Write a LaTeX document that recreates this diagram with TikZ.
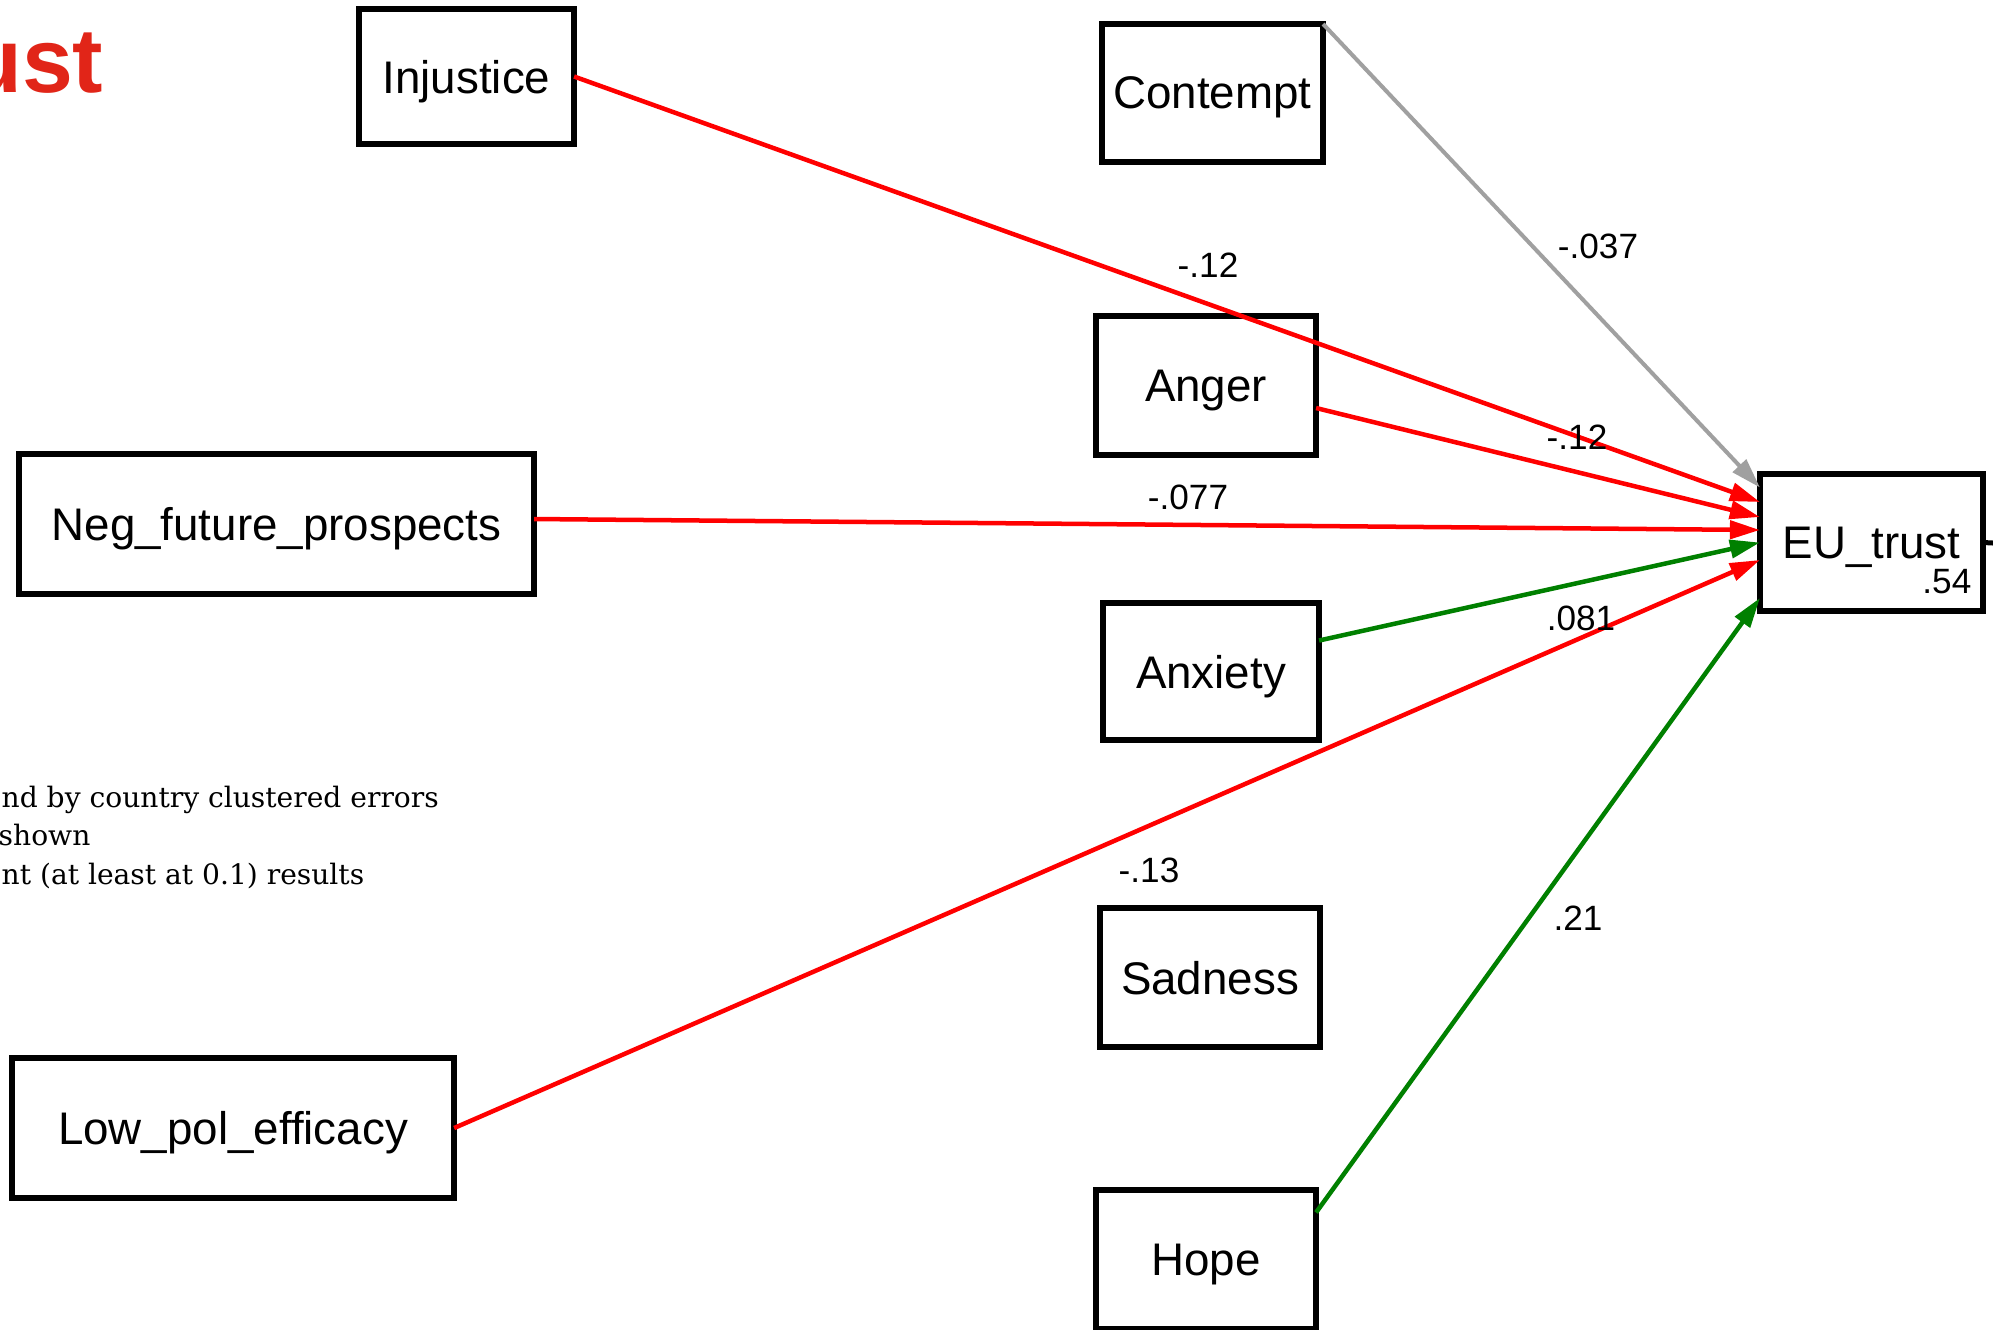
\documentclass[tikz,border=0pt]{standalone}
\usepackage{fontspec}
\setmainfont{Liberation Sans}
\newfontfamily\notefont{DejaVu Serif}
\usetikzlibrary{arrows.meta,calc}
\definecolor{semred}{RGB}{255,0,0}
\definecolor{semgreen}{RGB}{0,128,0}
\definecolor{semgray}{RGB}{160,160,160}
\definecolor{titlered}{RGB}{225,37,24}
\tikzset{
  varbox/.style={draw=black, line width=0.065cm, inner sep=0pt, outer sep=0pt,
    text depth=0pt, font=\fontsize{13pt}{15pt}\selectfont, fill=white},
  coef/.style={inner sep=0pt, font=\fontsize{10pt}{12pt}\selectfont},
  tipA/.style={-{Triangle[length=0.3cm,width=0.18cm]}},
  redpath/.style={tipA, draw=semred, line width=0.045cm},
  greenpath/.style={tipA, draw=semgreen, line width=0.045cm},
  graypath/.style={tipA, draw=semgray, line width=0.04cm},
  notetext/.style={inner sep=0pt, anchor=base west, font=\notefont\fontsize{8pt}{10pt}\selectfont}
}
\begin{document}
\begin{tikzpicture}[x=0.01cm,y=-0.01cm]
\useasboundingbox (0,0) rectangle (1993,1329);
\clip (0,0) rectangle (1993,1329);
\fill[white] (0,0) rectangle (1993,1329);

% title fragment
\node[anchor=base east, inner sep=0pt, text=titlered, font=\bfseries\fontsize{26pt}{30pt}\selectfont] (ttl) at (104,92) {ust};

% note lines
\node[notetext] (n1) at (1,807) {nd by country clustered errors};
\node[notetext] (n2) at (-2,845) {shown};
\node[notetext] (n3) at (1,884) {nt (at least at 0.1) results};

% boxes
\node[varbox, minimum width=2.15cm, minimum height=1.35cm] (inj) at (466.5,76.5) {Injustice};
\node[varbox, minimum width=2.21cm, minimum height=1.38cm] (con) at (1212.5,93) {Contempt};
\node[varbox, minimum width=2.20cm, minimum height=1.39cm] (ang) at (1206,385.5) {Anger};
\node[varbox, minimum width=5.15cm, minimum height=1.40cm] (neg) at (276.5,524) {Neg\_future\_prospects};
\node[varbox, minimum width=2.23cm, minimum height=1.37cm] (eu) at (1871.5,542.5) {EU\_trust};
\node[varbox, minimum width=2.16cm, minimum height=1.37cm] (anx) at (1211,671.5) {Anxiety};
\node[varbox, minimum width=2.20cm, minimum height=1.39cm] (sad) at (1210,977.5) {Sadness};
\node[varbox, minimum width=4.42cm, minimum height=1.40cm] (low) at (233,1128) {Low\_pol\_efficacy};
\node[varbox, minimum width=2.20cm, minimum height=1.39cm] (hop) at (1206,1259.5) {Hope};

\node[coef, anchor=base east] (r2) at (1972,593) {.54};

% residual stub
\coordinate (stub) at (1993,543);
\draw[line width=0.05cm] (eu.east) -- (stub);

% paths
\draw[redpath] (inj.east) -- ($(eu.west)+(0,-40.5)$);
\draw[graypath] (con.north east) -- ($(eu.west)+(0,-55)$);
\draw[redpath] ($(ang.east)+(0,22.5)$) -- ($(eu.west)+(0,-25.5)$);
\draw[redpath] ($(neg.east)+(0,-5)$) -- ($(eu.west)+(0,-12.5)$);
\draw[greenpath] ($(anx.east)+(0,-31)$) -- ($(eu.west)+(0,0)$);
\draw[redpath] (low.east) -- ($(eu.west)+(0,17.5)$);
\draw[greenpath] ($(hop.east)+(0,-47)$) -- ($(eu.west)+(0,55.5)$);

% coefficients
\node[coef] (c1) at (1208,265) {-.12};
\node[coef] (c2) at (1598,246) {-.037};
\node[coef] (c3) at (1577,437) {-.12};
\node[coef] (c4) at (1188,497) {-.077};
\node[coef] (c5) at (1581,618) {.081};
\node[coef] (c6) at (1149,870) {-.13};
\node[coef] (c7) at (1578,918) {.21};
\end{tikzpicture}
\end{document}
